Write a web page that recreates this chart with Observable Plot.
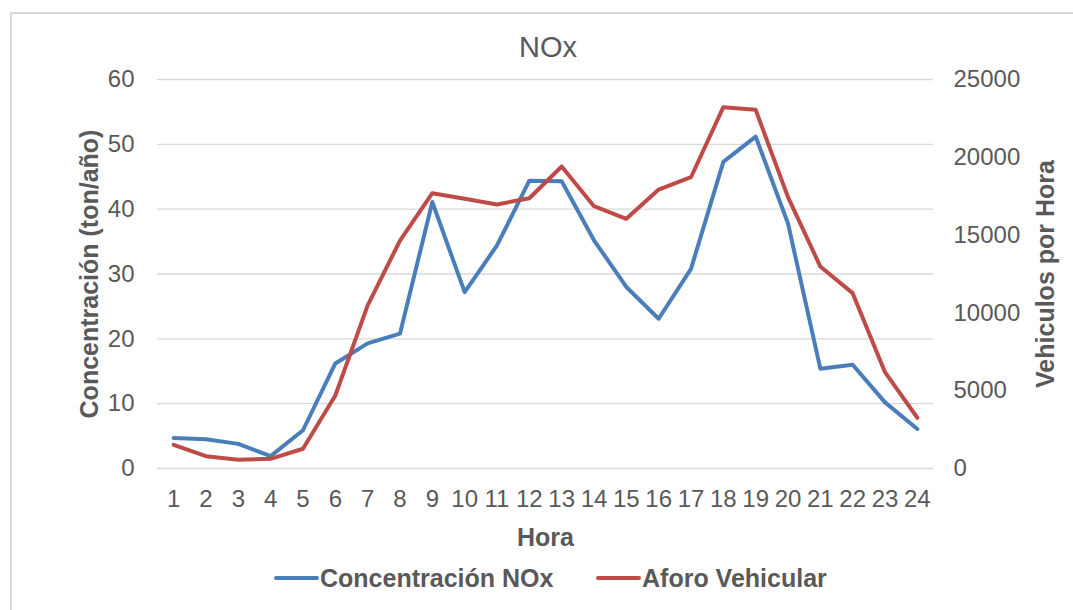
<!DOCTYPE html>
<html>
<head>
<meta charset="utf-8">
<script src="https://cdn.jsdelivr.net/npm/d3@7"></script>
<script src="https://cdn.jsdelivr.net/npm/@observablehq/plot@0.6"></script>
<style>
  body { margin: 0; background: #fff; }
  #wrap { position: relative; width: 1073px; height: 610px; overflow: hidden;
          font-family: "Liberation Sans", Arial, sans-serif; color: #595959; background: #fff; }
  #border { position: absolute; left: 10px; top: 12px; width: 1200px; height: 800px;
            border: 2px solid #d9d9d9; box-sizing: border-box; }
  #chart { position: absolute; left: 0; top: 0; }
  #title { position: absolute; left: 448px; width: 200px; top: 30px; text-align: center;
           font-size: 29px; line-height: 34px; }
  .lg-line { position: absolute; height: 4px; border-radius: 2px; top: 576px; }
  .lg-text { position: absolute; top: 564px; font-size: 25px; line-height: 28px; font-weight: bold; white-space: nowrap; }
</style>
</head>
<body>
<div id="wrap">
  <div id="border"></div>
  <div id="chart"></div>
  <div id="title"></div>
  <div id="legend"></div>
</div>
<script>
// ---- data ----
const titulo = "NOx";
const horas = [1,2,3,4,5,6,7,8,9,10,11,12,13,14,15,16,17,18,19,20,21,22,23,24];
const concentracionNOx = [4.7,4.5,3.8,1.9,5.9,16.2,19.3,20.8,41.1,27.2,34.4,44.4,44.3,35.2,28.0,23.1,30.8,47.3,51.2,37.8,15.4,16.0,10.2,6.1];
const aforoVehicular = [1520,790,560,620,1270,4690,10480,14650,17690,17330,16970,17370,19410,16860,16050,17930,18720,23220,23050,17440,12980,11270,6190,3260];
const ticksIzq = [0,10,20,30,40,50,60];
const ticksDer = [0,5000,10000,15000,20000,25000];
const series = [
  {name: "Concentración NOx", color: "#4a7ebb"},
  {name: "Aforo Vehicular", color: "#be4b48"}
];
const labelY = "Concentración (ton/año)";
const labelY2 = "Vehiculos por Hora";
const labelX = "Hora";

// ---- build ----
const ratio = 60 / 25000; // right axis -> left axis units
const data = horas.map((h, i) => ({hora: h, conc: concentracionNOx[i], aforo: aforoVehicular[i]}));

const chart = Plot.plot({
  width: 1073,
  height: 560,
  marginTop: 79,
  marginBottom: 92,
  marginLeft: 157,
  marginRight: 140,
  style: {fontFamily: '"Liberation Sans", Arial, sans-serif', fontSize: "24px", color: "#595959", background: "transparent", overflow: "visible"},
  x: {type: "point", domain: horas, padding: 0.5, round: false},
  y: {domain: [0, 60]},
  marks: [
    Plot.gridY(ticksIzq, {stroke: "#d9d9d9", strokeOpacity: 1, strokeWidth: 1.3}),
    Plot.axisY(ticksIzq, {anchor: "left", tickSize: 0, tickPadding: 23, label: null, fill: "#595959"}),
    Plot.axisY(ticksDer.map(v => v * ratio), {anchor: "right", tickSize: 0, tickPadding: 20, label: null, fill: "#595959",
      tickFormat: d => String(Math.round(d / ratio))}),
    Plot.axisX(horas, {anchor: "bottom", tickSize: 0, tickPadding: 21, label: null, fill: "#595959"}),
    Plot.line(data, {x: "hora", y: "conc", stroke: series[0].color, strokeWidth: 4, strokeLinejoin: "round", strokeLinecap: "round"}),
    Plot.line(data, {x: "hora", y: d => d.aforo * ratio, stroke: series[1].color, strokeWidth: 4, strokeLinejoin: "round", strokeLinecap: "round"}),
    Plot.text([labelY], {frameAnchor: "left", dx: -68, rotate: -90, text: d => d, fontSize: 25, fontWeight: "bold", fill: "#595959", textAnchor: "middle", lineAnchor: "middle"}),
    Plot.text([labelY2], {frameAnchor: "right", dx: 112, rotate: -90, text: d => d, fontSize: 25, fontWeight: "bold", fill: "#595959", textAnchor: "middle", lineAnchor: "middle"}),
    Plot.text([labelX], {frameAnchor: "bottom", dy: 69, text: d => d, fontSize: 25, fontWeight: "bold", fill: "#595959", textAnchor: "middle", lineAnchor: "middle"})
  ]
});
document.getElementById("chart").appendChild(chart);
document.getElementById("title").textContent = titulo;

// legend
const legend = document.getElementById("legend");
const lgPos = [{line: 274, text: 320}, {line: 596, text: 642}];
series.forEach((s, i) => {
  const l = document.createElement("div");
  l.className = "lg-line";
  l.style.left = lgPos[i].line + "px";
  l.style.width = "45px";
  l.style.background = s.color;
  legend.appendChild(l);
  const t = document.createElement("div");
  t.className = "lg-text";
  t.style.left = lgPos[i].text + "px";
  t.textContent = s.name;
  legend.appendChild(t);
});
</script>
</body>
</html>
